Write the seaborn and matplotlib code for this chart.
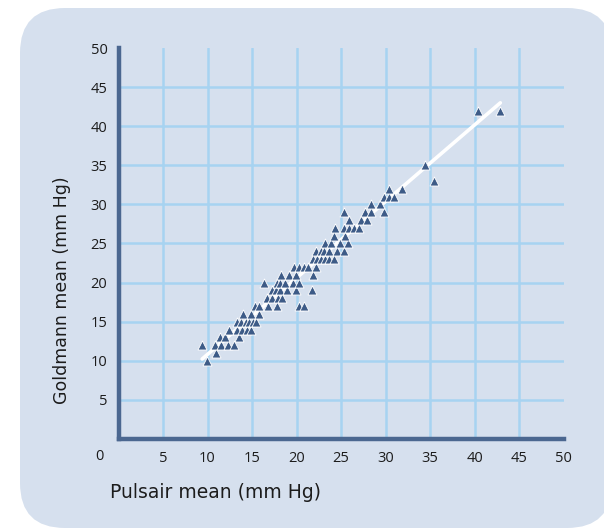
import numpy as np
import pandas as pd
import matplotlib.pyplot as plt
import seaborn as sns
from matplotlib.patches import FancyBboxPatch

# Pulsair vs Goldmann means, read row by row (Goldmann values are whole mm Hg)
pulsair = [
    9.9,
    10.9,
    9.4, 10.8, 11.5, 12.3, 13.0,
    11.4, 12.0, 13.5,
    12.4, 13.3, 13.9, 14.4, 14.9,
    13.3, 13.8, 14.3, 14.7, 15.1, 15.5,
    14.0, 14.9, 15.8,
    15.3, 15.8, 16.8, 17.8, 20.3, 20.8,
    16.7, 17.3, 17.9, 18.4,
    17.2, 17.7, 18.2, 18.9, 19.9, 21.7,
    16.3, 17.8, 18.2, 18.7, 19.6, 20.3,
    18.3, 19.2, 19.9, 21.8,
    19.7, 20.3, 20.8, 21.3, 22.2,
    21.8, 22.3, 22.8, 23.2, 23.7, 24.2,
    22.2, 22.7, 23.1, 23.7, 24.6, 25.3,
    23.2, 23.9, 24.9, 25.8,
    24.2, 25.4,
    24.3, 25.3, 25.9, 26.5, 27.0,
    25.9, 27.2, 27.9,
    25.3, 27.7, 28.4, 29.8,
    28.4, 29.4,
    29.8, 30.4, 31.0,
    30.4, 31.8,
    35.4,
    34.4,
    40.4, 42.9,
]
goldmann = [
    10,
    11,
    12, 12, 12, 12, 12,
    13, 13, 13,
    14, 14, 14, 14, 14,
    15, 15, 15, 15, 15, 15,
    16, 16, 16,
    17, 17, 17, 17, 17, 17,
    18, 18, 18, 18,
    19, 19, 19, 19, 19, 19,
    20, 20, 20, 20, 20, 20,
    21, 21, 21, 21,
    22, 22, 22, 22, 22,
    23, 23, 23, 23, 23, 23,
    24, 24, 24, 24, 24, 24,
    25, 25, 25, 25,
    26, 26,
    27, 27, 27, 27, 27,
    28, 28, 28,
    29, 29, 29, 29,
    30, 30,
    31, 31, 31,
    32, 32,
    33,
    35,
    42, 42,
]
tick_values = [5, 10, 15, 20, 25, 30, 35, 40, 45, 50]
x_label = "Pulsair mean (mm Hg)"
y_label = "Goldmann mean (mm Hg)"

panel_color = "#d6e0ee"
grid_color = "#a7d3f1"
spine_color = "#4b6790"
marker_color = "#3d5b87"
text_color = "#1c1c1c"

sns.set_theme(style="white")
plt.rcParams["font.family"] = ["Open Sans", "DejaVu Sans"]

df = pd.DataFrame({"Pulsair": pulsair, "Goldmann": goldmann})

fig = plt.figure(figsize=(6.04, 5.31), dpi=100)
fig.patch.set_facecolor("white")

# rounded background panel (pixel coordinates)
panel = FancyBboxPatch((20, 3), 592, 520, boxstyle="round,pad=0,rounding_size=45",
                       transform=None, facecolor=panel_color, edgecolor="none", zorder=-1)
fig.add_artist(panel)

ax = fig.add_axes([0.1962, 0.1733, 0.7368, 0.7363])
ax.patch.set_visible(False)

sns.regplot(data=df, x="Pulsair", y="Goldmann", ax=ax, scatter=False, ci=None,
            truncate=True, line_kws={"color": "white", "lw": 2.6, "zorder": 3})
sns.scatterplot(data=df, x="Pulsair", y="Goldmann", ax=ax, marker="^", s=42,
                color=marker_color, edgecolor="white", linewidth=0.6, zorder=4)

ax.set_xlim(0, 50)
ax.set_ylim(0, 50)
ax.set_xticks(tick_values)
ax.set_yticks(tick_values)
ax.set_xticklabels([str(t) for t in tick_values])
ax.set_yticklabels([str(t) for t in tick_values])
ax.tick_params(length=0, labelsize=10.5, labelcolor=text_color)
ax.tick_params(axis="x", pad=9)
ax.tick_params(axis="y", pad=8)
ax.text(-2.1, -2.2, "0", ha="center", va="center", fontsize=10.5, color=text_color)

ax.grid(True, color=grid_color, lw=1.8, zorder=0)
ax.set_axisbelow(True)
# no grid line on the 50 mark
ax.get_xgridlines()[-1].set_visible(False)
ax.get_ygridlines()[-1].set_visible(False)

for side in ["top", "right"]:
    ax.spines[side].set_visible(False)
for side in ["left", "bottom"]:
    ax.spines[side].set_color(spine_color)
    ax.spines[side].set_linewidth(3.2)

ax.set_xlabel("")
ax.set_ylabel("")
label_font = ["DejaVu Sans"]
fig.text(110 / 604, 1 - 493 / 531, x_label, ha="left", va="center", fontsize=13.5,
         color=text_color, family=label_font)
fig.text(62 / 604, 1 - 290 / 531, y_label, ha="center", va="center", rotation=90,
         fontsize=12.5, color=text_color, family=label_font)

fig.savefig("out.png", dpi=100)
